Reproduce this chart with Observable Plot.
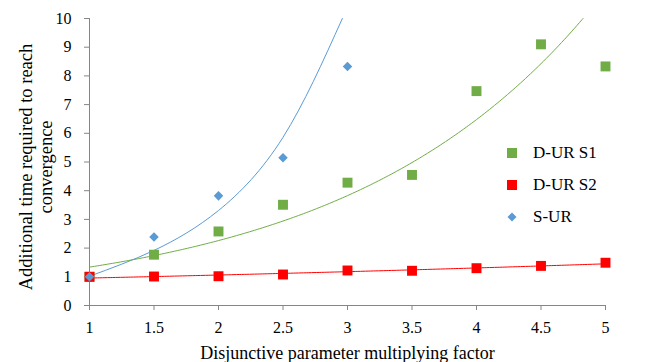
<!DOCTYPE html>
<html>
<head>
<meta charset="utf-8">
<script src="https://cdn.jsdelivr.net/npm/d3@7"></script>
<script src="https://cdn.jsdelivr.net/npm/@observablehq/plot@0.6"></script>
<style>
  html, body { margin: 0; padding: 0; background: #fff; }
  #wrap { position: relative; width: 651px; height: 362px; font-family: "Liberation Serif", "Times New Roman", serif; }
  #wrap svg { overflow: visible; }
  #legend { position: absolute; left: 506px; top: 137px; font-size: 17px; color: #000; }
  .row { display: flex; align-items: center; height: 32px; }
  .sw { width: 12px; height: 12px; display: flex; align-items: center; justify-content: center; margin-right: 15px; }
</style>
</head>
<body>
<div id="wrap"></div>
<script>
// ---- data ----
const factors = [1, 1.5, 2, 2.5, 3, 3.5, 4, 4.5, 5];
const durS1 = [1, 1.77, 2.58, 3.51, 4.28, 4.55, 7.47, 9.1, 8.33];
const durS2 = [1, 1.01, 1.02, 1.08, 1.22, 1.21, 1.3, 1.38, 1.49];
const surFactors = [1, 1.5, 2, 2.5, 3];
const sur = [1, 2.39, 3.82, 5.15, 8.33];
// S-UR trendline as drawn in the reference (its fit uses points beyond the axis)
const surTrendX = [1, 1.5, 2, 2.5, 2.96];
const surTrendY = [1.02, 1.92, 3.31, 5.86, 10];
const seriesNames = ["D-UR S1", "D-UR S2", "S-UR"];
const seriesColors = ["#70AD47", "#FF0000", "#5B9BD5"];
const xTicks = [1, 1.5, 2, 2.5, 3, 3.5, 4, 4.5, 5];
const yTicks = [0, 1, 2, 3, 4, 5, 6, 7, 8, 9, 10];
const yTitle = "Additional time required to reach\nconvergence";
const xTitle = "Disjunctive parameter multiplying factor";
const FONT = "Liberation Serif";

// exponential (log-linear least squares) trendline, like a spreadsheet's
function expTrend(xs, ys, xmax, ymax) {
  const ly = ys.map(Math.log);
  const mx = d3.mean(xs), my = d3.mean(ly);
  const b = d3.sum(xs, (x, i) => (x - mx) * (ly[i] - my)) / d3.sum(xs, x => (x - mx) ** 2);
  const a = my - b * mx;
  const xEnd = Math.min(xmax, (Math.log(ymax) - a) / b);
  const pts = [];
  for (let x = xs[0]; x < xEnd; x += 0.02) pts.push({x, y: Math.exp(a + b * x)});
  pts.push({x: xEnd, y: Math.exp(a + b * xEnd)});
  return pts;
}

const s1 = factors.map((x, i) => ({x, y: durS1[i]}));
const s2 = factors.map((x, i) => ({x, y: durS2[i]}));
const su = surFactors.map((x, i) => ({x, y: sur[i]}));
const suTrend = surTrendX.map((x, i) => ({x, y: surTrendY[i]}));
const s1Trend = expTrend(factors, durS1, 5, 10);
const s2Trend = expTrend(factors, durS2, 5, 10);

const diamond = {
  draw(ctx, size) {
    const h = Math.sqrt(size / 2);
    ctx.moveTo(0, -h); ctx.lineTo(h, 0); ctx.lineTo(0, h); ctx.lineTo(-h, 0); ctx.closePath();
  }
};

const chart = Plot.plot({
  width: 651,
  height: 362,
  marginLeft: 89,
  marginRight: 46,
  marginTop: 18,
  marginBottom: 57,
  style: { fontFamily: FONT, fontSize: "16px", color: "#000", background: "#fff", overflow: "visible" },
  x: { domain: [1, 5] },
  y: { domain: [0, 10] },
  marks: [
    Plot.ruleY([0], { stroke: "#868686" }),
    Plot.ruleX([1], { stroke: "#868686" }),
    Plot.axisX({ ticks: xTicks, tickSize: 5, tickPadding: 11, stroke: "#868686", fill: "#000", label: null, fontSize: 16, fontFamily: FONT, tickFormat: d => String(d) }),
    Plot.axisY({ ticks: yTicks, tickSize: 5, tickPadding: 13, stroke: "#868686", fill: "#000", label: null, fontSize: 16, fontFamily: FONT }),
    Plot.line(suTrend, { x: "x", y: "y", stroke: seriesColors[2], strokeWidth: 1, curve: "natural" }),
    Plot.line(s1Trend, { x: "x", y: "y", stroke: seriesColors[0], strokeWidth: 1 }),
    Plot.line(s2Trend, { x: "x", y: "y", stroke: seriesColors[1], strokeWidth: 1 }),
    Plot.dot(s1, { x: "x", y: "y", symbol: "square", r: 5.6, fill: seriesColors[0], stroke: "none" }),
    Plot.dot(s2, { x: "x", y: "y", symbol: "square", r: 5.6, fill: seriesColors[1], stroke: "none" }),
    Plot.dot(su, { x: "x", y: "y", symbol: diamond, r: 3.8, fill: seriesColors[2], stroke: "none" }),
    Plot.text([yTitle], {
      frameAnchor: "left", textAnchor: "middle", lineAnchor: "middle", dx: -54, dy: 5, rotate: -90,
      fontSize: 18.5, lineHeight: 1.08, fill: "#000", fontFamily: FONT
    }),
    Plot.text([xTitle], {
      frameAnchor: "bottom", textAnchor: "middle", lineAnchor: "middle", dy: 47.5, fontSize: 18, fill: "#000", fontFamily: FONT
    })
  ]
});

const wrap = document.getElementById("wrap");
wrap.appendChild(chart);

// legend
const legend = document.createElement("div");
legend.id = "legend";
const ns = "http://www.w3.org/2000/svg";
seriesNames.forEach((name, i) => {
  const row = document.createElement("div");
  row.className = "row";
  const sw = document.createElement("div");
  sw.className = "sw";
  const svg = document.createElementNS(ns, "svg");
  svg.setAttribute("width", 12); svg.setAttribute("height", 12);
  if (i < 2) {
    const r = document.createElementNS(ns, "rect");
    r.setAttribute("x", 1); r.setAttribute("y", 1); r.setAttribute("width", 10); r.setAttribute("height", 10);
    r.setAttribute("fill", seriesColors[i]);
    svg.appendChild(r);
  } else {
    const p = document.createElementNS(ns, "path");
    p.setAttribute("d", "M6,1.5L10.5,6L6,10.5L1.5,6Z");
    p.setAttribute("fill", seriesColors[i]);
    svg.appendChild(p);
  }
  sw.appendChild(svg);
  const t = document.createElement("span");
  t.textContent = name;
  row.appendChild(sw); row.appendChild(t);
  legend.appendChild(row);
});
wrap.appendChild(legend);
</script>
</body>
</html>
